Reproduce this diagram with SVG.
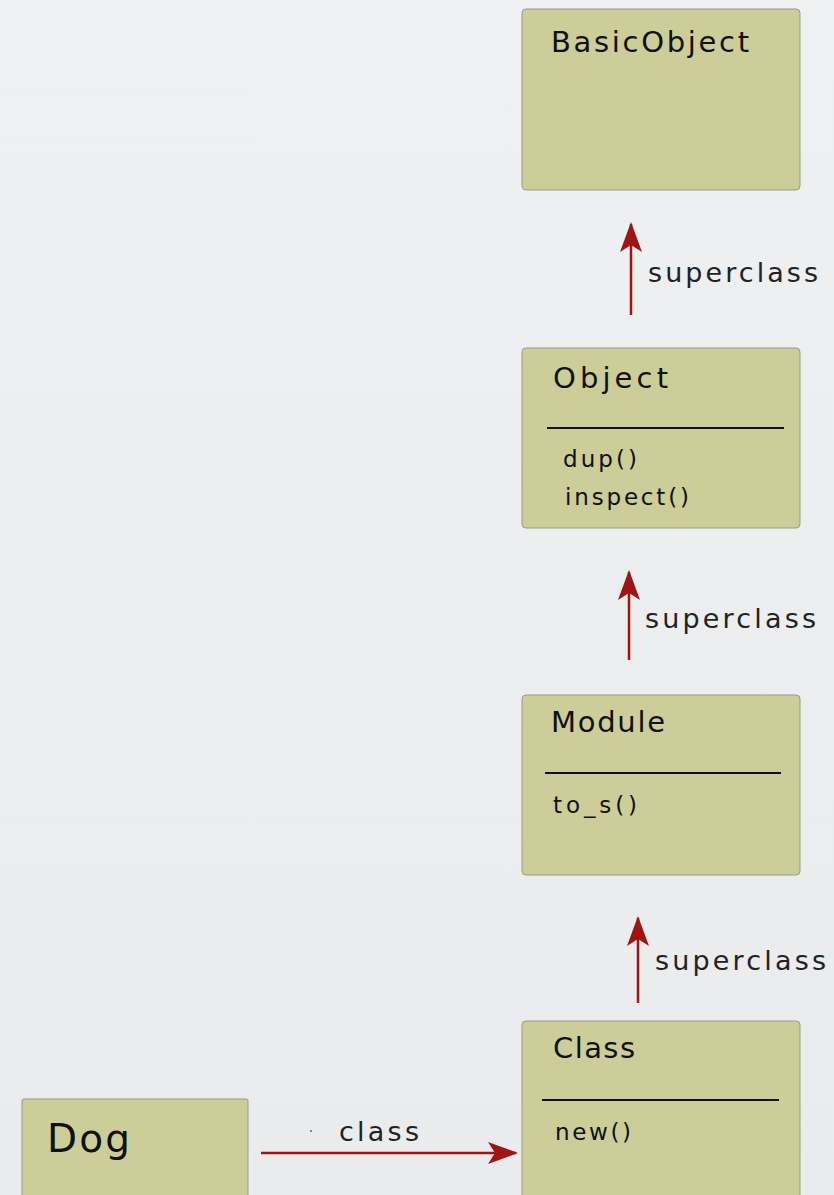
<svg xmlns="http://www.w3.org/2000/svg" width="834" height="1195" viewBox="0 0 834 1195">
<defs>
<linearGradient id="bg" x1="0" y1="0" x2="0" y2="1">
<stop offset="0" stop-color="#eef0f2"/>
<stop offset="1" stop-color="#e9ebed"/>
</linearGradient>
<marker id="ah" viewBox="0 0 30 24" refX="28" refY="12" markerWidth="30" markerHeight="24" markerUnits="userSpaceOnUse" orient="auto">
<path d="M0,1 L30,12 L0,23 L7,12 Z" fill="#a01414"/>
</marker>
</defs>
<style>
.box{fill:#cccd98;stroke:#9a9a8a;stroke-width:1}
.t{font-family:"Comic Sans MS","DejaVu Sans",sans-serif;fill:#111}
.title{font-size:29px}
.m{font-size:23px}
.sep{stroke:#111;stroke-width:2}
.conn{stroke:#a01414;stroke-width:2.5;fill:none;marker-end:url(#ah)}
.lbl{font-family:"Comic Sans MS","DejaVu Sans",sans-serif;font-size:27px;fill:#222}
</style>
<rect width="834" height="1195" fill="url(#bg)"/>
<g id="BasicObject">
<rect class="box" x="522" y="9" width="278" height="181" rx="4"/>
<text class="t title" x="551" y="52" textLength="198" lengthAdjust="spacing">BasicObject</text>
</g>
<g id="Object">
<rect class="box" x="522" y="348" width="278" height="180" rx="4"/>
<text class="t title" x="553" y="388" textLength="115" lengthAdjust="spacing">Object</text>
<line class="sep" x1="547" y1="428" x2="784" y2="428"/>
<text class="t m" x="563" y="467" textLength="74" lengthAdjust="spacing">dup()</text>
<text class="t m" x="565" y="505" textLength="124" lengthAdjust="spacing">inspect()</text>
</g>
<g id="Module">
<rect class="box" x="522" y="695" width="278" height="180" rx="4"/>
<text class="t title" x="551" y="732" textLength="114" lengthAdjust="spacing">Module</text>
<line class="sep" x1="545" y1="773" x2="781" y2="773"/>
<text class="t m" x="553" y="813" textLength="84" lengthAdjust="spacing">to_s()</text>
</g>
<g id="Class">
<rect class="box" x="522" y="1021" width="278" height="190" rx="4"/>
<text class="t title" x="553" y="1058" textLength="82" lengthAdjust="spacing">Class</text>
<line class="sep" x1="542" y1="1100" x2="779" y2="1100"/>
<text class="t m" x="555" y="1140" textLength="76" lengthAdjust="spacing">new()</text>
</g>
<g id="Dog">
<rect class="box" x="22" y="1099" width="226" height="110" rx="2"/>
<text class="t" style="font-size:39px" x="47" y="1152" textLength="83" lengthAdjust="spacing">Dog</text>
</g>
<g id="connectors">
<line class="conn" x1="631" y1="315" x2="631" y2="224"/>
<text class="lbl" x="648" y="282" textLength="170" lengthAdjust="spacing">superclass</text>
<line class="conn" x1="629" y1="660" x2="629" y2="572"/>
<text class="lbl" x="645" y="628" textLength="171" lengthAdjust="spacing">superclass</text>
<line class="conn" x1="638" y1="1003" x2="638" y2="918"/>
<text class="lbl" x="655" y="970" textLength="171" lengthAdjust="spacing">superclass</text>
<line class="conn" x1="261" y1="1153" x2="516" y2="1153"/>
<text class="lbl" x="339" y="1141" textLength="80" lengthAdjust="spacing">class</text>
<circle cx="311" cy="1131" r="1" fill="#666"/>
</g>
</svg>
